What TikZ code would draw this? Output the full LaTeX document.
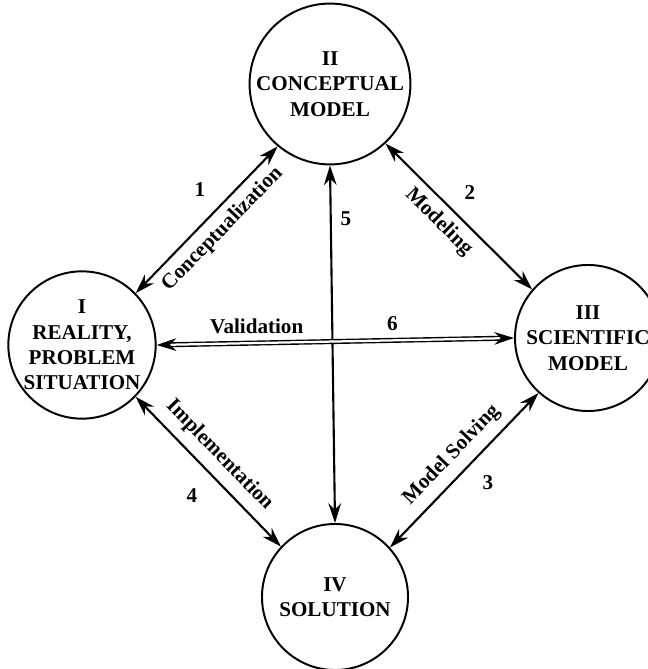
\documentclass[tikz,border=0pt]{standalone}
\usepackage{fontspec}
\setmainfont{Liberation Serif}
\usepackage{tikz}
\usetikzlibrary{shapes,arrows,arrows.meta,positioning}
\tikzstyle{stage} = [circle, draw=black, line width=1.4pt, minimum size=3.65cm, inner sep=0pt,
    align=center, font=\fontsize{15}{18}\selectfont\bfseries]
\tikzstyle{arrow} = [line width=1.5pt, {Stealth[length=14pt,width=9pt]}-{Stealth[length=14pt,width=9pt]}]
\tikzstyle{validate} = [arrow, line width=1pt, double, double distance=1.6pt]
\tikzstyle{tag} = [font=\fontsize{15}{17}\selectfont\bfseries]

\begin{document}
\begin{tikzpicture}[x=0.025cm, y=-0.025cm]
\useasboundingbox (0,0) rectangle (647,669);
\node[stage] (concept) at (330,84) {II\\CONCEPTUAL\\MODEL};
\node[stage] (real) at (82,345) {I\\REALITY,\\PROBLEM\\SITUATION};
\node[stage] (science) at (588,338) {III\\SCIENTIFIC\\MODEL};
\node[stage] (solution) at (335,597) {IV\\SOLUTION};

\draw[arrow] (real.44) -- node[tag, sloped, below=2pt, pos=.52] (conc) {Conceptualization} (concept.230);
\draw[arrow] (concept.313) -- node[tag, sloped, below=2pt, pos=.45] (mod) {Modeling} (science.139);
\draw[arrow] (solution.42) -- node[tag, sloped, above=3pt, pos=.51] (solv) {Model Solving} (science.228);
\draw[arrow] (real.316) -- node[tag, sloped, above=3pt, pos=.48] (impl) {Implementation} (solution.137);
\draw[arrow] (concept.south) -- node[tag, right=3pt, pos=.15] (five) {5} (solution.north);
\draw[validate] (real.east) -- node[tag, above=3pt, pos=.28] (valid) {Validation}
    node[tag, above=3pt, pos=.66] (six) {6} (science.west);

\node[tag] (one) at (200,190) {1};
\node[tag] (two) at (470,193) {2};
\node[tag] (three) at (488,483) {3};
\node[tag] (four) at (192,496) {4};
\end{tikzpicture}
\end{document}
